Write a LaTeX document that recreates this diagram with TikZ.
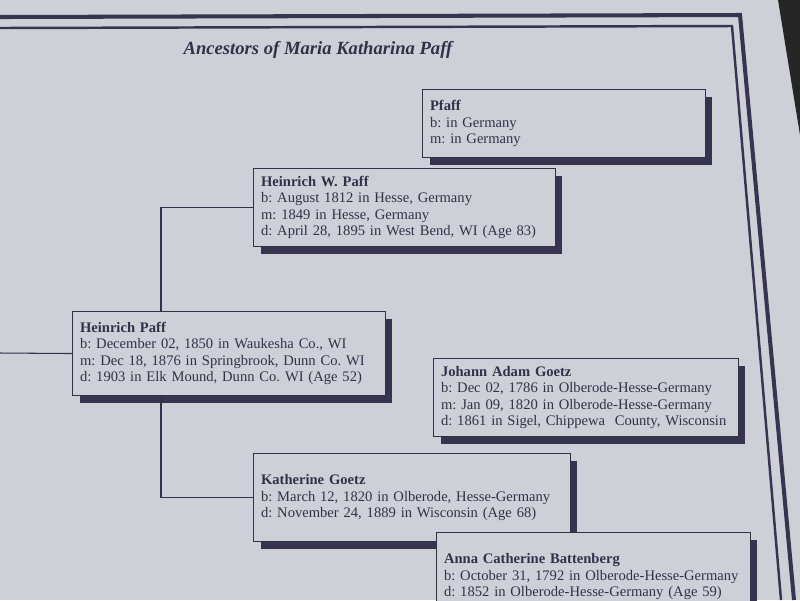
\documentclass[tikz,border=0pt]{standalone}
\usepackage{fontspec}
\setmainfont{Liberation Serif}
\frenchspacing
\definecolor{paper}{RGB}{206,208,215}
\definecolor{ink}{RGB}{52,48,72}
\definecolor{rim}{RGB}{56,52,80}
\tikzset{person/.style={rectangle,draw=ink,line width=0.6pt,fill=paper,anchor=north west,align=left,
            inner xsep=0.15cm,inner ysep=1pt,text=ink,font=\fontsize{8.3}{9.3}\selectfont,
            preaction={fill=rim,transform canvas={xshift=0.14cm,yshift=-0.15cm}}},
         link/.style={draw=ink,line width=0.6pt},
         title/.style={text=ink,font=\fontsize{10.6}{12}\selectfont\bfseries\itshape}
}

\begin{document}
\begin{tikzpicture}[x=0.02cm,y=-0.02cm]
\clip (0,0) rectangle (800,600);
\fill[paper] (0,0) rectangle (800,600);
\fill[black!85] (778,0) -- (800,0) -- (800,135) -- cycle;

% double frame of the sheet
\draw[rim,line width=2.3pt] (0,17) -- (740,15) -- (794,600);
\draw[rim,line width=1.4pt] (0,28) -- (732,26) -- (781,600);

\node[title] (title) at (318,50) {Ancestors of Maria Katharina Paff};

\node[person,text width=5.36cm,minimum height=1.36cm] (8) at (422,89)
    {\textbf{Pfaff}\\b: in Germany\\m: in Germany};
\node[person,text width=5.74cm,minimum height=1.56cm] (4) at (253,168)
    {\textbf{Heinrich W. Paff}\\b: August 1812 in Hesse, Germany\\m: 1849 in Hesse, Germany\\d: April 28, 1895 in West Bend, WI (Age 83)};
\node[person,text width=5.96cm,minimum height=1.68cm] (2) at (72,311)
    {\textbf{Heinrich Paff}\\b: December 02, 1850 in Waukesha Co., WI\\m: Dec 18, 1876 in Springbrook, Dunn Co. WI\\d: 1903 in Elk Mound, Dunn Co. WI (Age 52)};
\node[person,text width=5.8cm,minimum height=1.56cm] (10) at (433,358)
    {\textbf{Johann Adam Goetz}\\b: Dec 02, 1786 in Olberode-Hesse-Germany\\m: Jan 09, 1820 in Olberode-Hesse-Germany\\d: 1861 in Sigel, Chippewa\ \ County, Wisconsin};
\node[person,text width=6.04cm,minimum height=1.76cm] (5) at (253,453)
    {\textbf{Katherine Goetz}\\b: March 12, 1820 in Olberode, Hesse-Germany\\d: November 24, 1889 in Wisconsin (Age 68)};
\node[person,text width=5.98cm,minimum height=1.76cm] (11) at (436,532)
    {\textbf{Anna Catherine Battenberg}\\b: October 31, 1792 in Olberode-Hesse-Germany\\d: 1852 in Olberode-Hesse-Germany (Age 59)};

\coordinate (1) at (0,353);
\draw[link] (1) -- (2.west);
\draw[link] (4.west) -| ([xshift=1.78cm]2.north west);
\draw[link] (5.west) -| ([xshift=1.78cm]2.south west);
\end{tikzpicture}
\end{document}
